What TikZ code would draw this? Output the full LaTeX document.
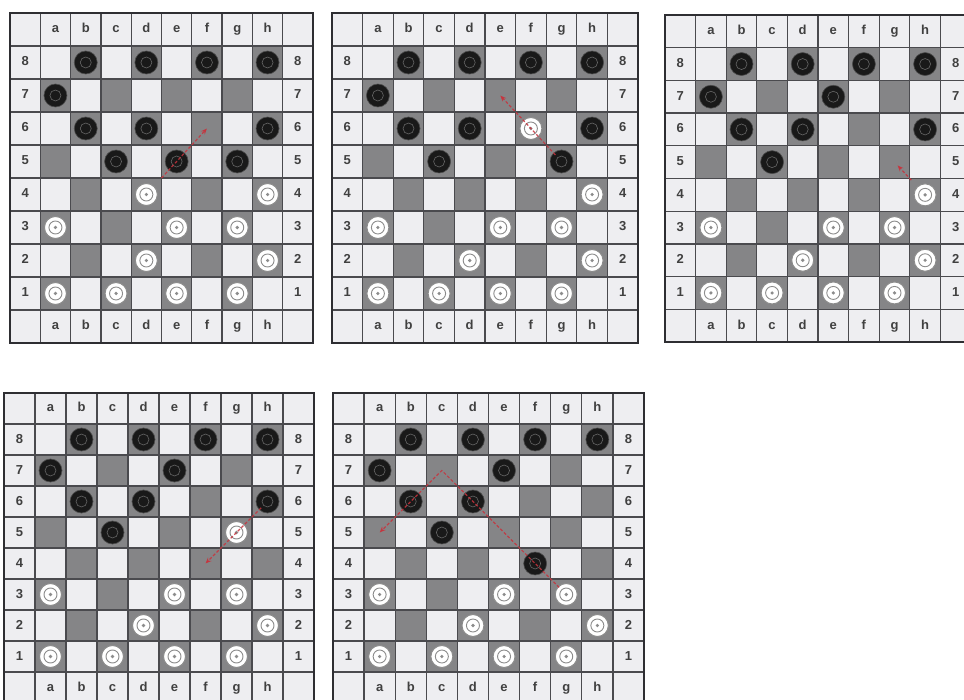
\documentclass[tikz,border=0pt]{standalone}
\usepackage{fontspec}
\setmainfont{Liberation Sans}
\usetikzlibrary{arrows.meta,calc}
\definecolor{lightsq}{HTML}{EEEEF1}
\definecolor{darksq}{HTML}{858587}
\definecolor{gridc}{HTML}{4A4A4E}
\definecolor{framec}{HTML}{2E2E32}
\definecolor{arrowc}{HTML}{C8323C}
\tikzset{
 sqlight/.style={fill=lightsq, draw=gridc, line width=1.3pt},
 sqdark/.style={fill=darksq, draw=gridc, line width=1.3pt},
 boardframe/.style={draw=framec, line width=2.8pt},
 lbl/.style={font=\fontsize{13}{13}\selectfont\bfseries, text=black!75, inner sep=0pt, text height=9.5pt, text depth=2.5pt},
 blackpc/.style={circle, fill=black!90, draw=black!70, line width=0.6pt, minimum size=23pt, inner sep=0pt,
   path picture={\draw[black!60, line width=0.6pt] (path picture bounding box.center) circle (5.5pt);}},
 whitepc/.style={circle, fill=white, draw=black!45, line width=1pt, minimum size=22pt, inner sep=0pt,
   path picture={\draw[black!45, line width=0.9pt] (path picture bounding box.center) circle (6.5pt);
                 \fill[black!45] (path picture bounding box.center) circle (1.8pt);}},
 redarrow/.style={draw=arrowc, line width=1.2pt, densely dashed, -{Stealth[length=6pt,width=5pt]}, opacity=0.85},
}
\newcommand\drawboard[5]{%
 \begin{scope}[shift={(#2,#3)}, x=#4pt, y=-#5pt]
  \foreach \i in {0,...,9} {
   \foreach \j in {0,...,9} {
    \path[sqlight] (\i,\j) rectangle ++(1,1);
   }
  }
  \foreach \i in {1,...,8} {
   \foreach \j in {1,...,8} {
    \pgfmathtruncatemacro\ssum{\i+\j}
    \ifodd\ssum \path[sqdark] (\i,\j) rectangle ++(1,1); \fi
   }
  }
  \path[boardframe] (0,0) rectangle (10,10);
  \foreach \l [count=\i] in {a,b,c,d,e,f,g,h} {
   \node[lbl] (#1-t\l) at (\i+0.5,0.5) {\l};
   \node[lbl] (#1-b\l) at (\i+0.5,9.5) {\l};
   \foreach \r in {1,...,8} {\coordinate (#1-sq-\l\r) at (\i+0.5,9.5-\r);}
  }
  \foreach \r in {1,...,8} {
   \node[lbl] (#1-l\r) at (0.5,9.5-\r) {\r};
   \node[lbl] (#1-r\r) at (9.5,9.5-\r) {\r};
  }
 \end{scope}}
\newcommand\putpcs[3]{\foreach \s in {#3} {\node[#2] (#1-\s) at (#1-sq-\s) {};}}
\begin{document}
\begin{tikzpicture}[x=1pt,y=-1pt]
\useasboundingbox (0,0) rectangle (964,700);
\fill[white] (0,0) rectangle (964,700);
\clip (0,0) rectangle (964,700);
\drawboard{B1}{10}{13}{30.3}{33}
\drawboard{B2}{332}{13}{30.6}{33}
\drawboard{B3}{665}{15}{30.6}{32.7}
\drawboard{B4}{4}{393}{31}{31}
\drawboard{B5}{333}{393}{31.1}{31}
% board 1
\putpcs{B1}{blackpc}{b8,d8,f8,h8,a7,b6,d6,h6,c5,e5,g5}
\putpcs{B1}{whitepc}{d4,h4,a3,e3,g3,d2,h2,a1,c1,e1,g1}
% board 2
\putpcs{B2}{blackpc}{b8,d8,f8,h8,a7,b6,d6,h6,c5,g5}
\putpcs{B2}{whitepc}{f6,h4,a3,e3,g3,d2,h2,a1,c1,e1,g1}
% board 3
\putpcs{B3}{blackpc}{b8,d8,f8,h8,a7,e7,b6,d6,h6,c5}
\putpcs{B3}{whitepc}{h4,a3,e3,g3,d2,h2,a1,c1,e1,g1}
% board 4
\putpcs{B4}{blackpc}{b8,d8,f8,h8,a7,e7,b6,d6,h6,c5}
\putpcs{B4}{whitepc}{g5,a3,e3,g3,d2,h2,a1,c1,e1,g1}
% board 5
\putpcs{B5}{blackpc}{b8,d8,f8,h8,a7,e7,b6,d6,c5,f4}
\putpcs{B5}{whitepc}{a3,e3,g3,d2,h2,a1,c1,e1,g1}
% moves
\draw[redarrow] ($(B1-sq-d4)!0.5!(B1-sq-e5)$) -- (B1-sq-f6);
\draw[redarrow, shorten <=9pt] (B2-sq-g5) -- (B2-sq-e7);
\draw[redarrow] ($(B3-sq-h4)!0.45!(B3-sq-g5)$) -- ($(B3-sq-h4)!0.9!(B3-sq-g5)$);
\draw[redarrow, shorten <=9pt] (B4-sq-h6) -- (B4-sq-f4);
\draw[redarrow, shorten <=10pt] (B5-sq-g3) -- (B5-sq-c7) -- (B5-sq-a5);
\end{tikzpicture}
\end{document}
